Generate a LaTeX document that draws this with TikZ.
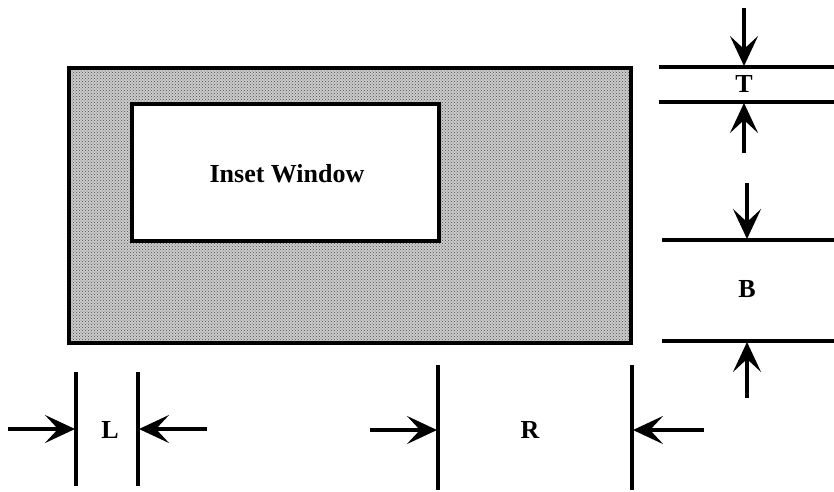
\documentclass[tikz,border=0pt]{standalone}
\usepackage{fontspec}
\setmainfont{Liberation Serif}
\usetikzlibrary{arrows.meta,patterns}
\begin{document}
\begin{tikzpicture}[x=1pt,y=-1pt,
  panel/.style={draw=black, line width=3.2pt, inner sep=0pt},
  dimline/.style={draw=black, line width=3.2pt},
  dimarrow/.style={draw=black, line width=3.2pt, -{Stealth[length=30pt,width=28pt,inset=13pt]}},
  lbl/.style={font=\fontsize{26}{28}\selectfont\bfseries, inner sep=0pt}]
\useasboundingbox (0,0) rectangle (834,491);
% outer panel and inset
\node[panel, fill=black!20, minimum width=562pt, minimum height=275pt] (outer) at (350,205.5) {};
\fill[pattern=crosshatch dots, pattern color=black!70] (outer.north west) rectangle (outer.south east);
\node[panel, minimum width=562pt, minimum height=275pt] (outerframe) at (350,205.5) {};
\node[panel, fill=white, minimum width=307pt, minimum height=137pt] (inset) at (285.5,172.5) {};
\node[lbl] (insettext) at (287,174) {Inset Window};
% T dimension
\coordinate (t1a) at (659,67); \coordinate (t1b) at (834,67);
\coordinate (t2a) at (659,102); \coordinate (t2b) at (834,102);
\draw[dimline] (t1a) -- (t1b);
\draw[dimline] (t2a) -- (t2b);
\coordinate (tas) at (744,8); \coordinate (tae) at (744,66);
\coordinate (tbs) at (744,153); \coordinate (tbe) at (744,103);
\draw[dimarrow] (tas) -- (tae);
\draw[dimarrow] (tbs) -- (tbe);
\node[lbl] (T) at (744,84) {T};
% B dimension
\coordinate (b1a) at (662,240); \coordinate (b1b) at (834,240);
\coordinate (b2a) at (662,341); \coordinate (b2b) at (834,341);
\draw[dimline] (b1a) -- (b1b);
\draw[dimline] (b2a) -- (b2b);
\coordinate (bas) at (747,183); \coordinate (bae) at (747,239);
\coordinate (bbs) at (747,398); \coordinate (bbe) at (747,342);
\draw[dimarrow] (bas) -- (bae);
\draw[dimarrow] (bbs) -- (bbe);
\node[lbl] (B) at (747,289) {B};
% L dimension
\coordinate (l1a) at (76,372); \coordinate (l1b) at (76,486);
\coordinate (l2a) at (138,372); \coordinate (l2b) at (138,486);
\draw[dimline] (l1a) -- (l1b);
\draw[dimline] (l2a) -- (l2b);
\coordinate (las) at (8,429); \coordinate (lae) at (75,429);
\coordinate (lbs) at (207,429); \coordinate (lbe) at (139,429);
\draw[dimarrow] (las) -- (lae);
\draw[dimarrow] (lbs) -- (lbe);
\node[lbl] (L) at (110,430) {L};
% R dimension
\coordinate (r1a) at (438,365); \coordinate (r1b) at (438,490);
\coordinate (r2a) at (632,365); \coordinate (r2b) at (632,490);
\draw[dimline] (r1a) -- (r1b);
\draw[dimline] (r2a) -- (r2b);
\coordinate (ras) at (370,430); \coordinate (rae) at (437,430);
\coordinate (rbs) at (704,430); \coordinate (rbe) at (633,430);
\draw[dimarrow] (ras) -- (rae);
\draw[dimarrow] (rbs) -- (rbe);
\node[lbl] (R) at (530,430) {R};
\end{tikzpicture}
\end{document}
